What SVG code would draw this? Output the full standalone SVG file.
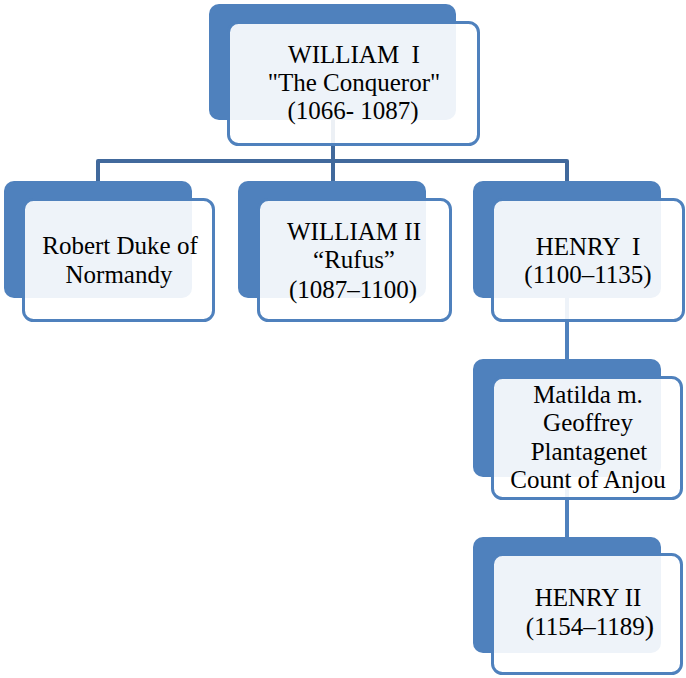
<svg xmlns="http://www.w3.org/2000/svg" width="686" height="678" viewBox="0 0 686 678">
<style>
.back{fill:#4F81BD;}
.front{fill:#FFFFFF;fill-opacity:0.9;stroke:#4F81BD;stroke-width:3;}
.t{font-family:"Liberation Serif","Times New Roman",serif;font-size:25px;fill:#000;text-anchor:middle;white-space:pre;}
.c1{fill:none;stroke:#41699C;stroke-width:4;stroke-linejoin:round;}
.c2{fill:none;stroke:#4F81BD;stroke-width:4;}
</style>
<rect width="686" height="678" fill="#FFFFFF"/>
<g id="connectors">
<path class="c1" d="M333,118 V161 M98,181 V161 H567 V181 M333,161 V181"/>
<path class="c2" d="M567,296 V360 M567,475 V538"/>
</g>
<g id="william1">
<rect class="back" x="209" y="4" width="247" height="116" rx="10"/>
<rect class="front" x="228.5" y="22.5" width="250" height="122" rx="10"/>
<text class="t" x="354" y="63" xml:space="preserve">WILLIAM  I</text>
<text class="t" x="354" y="91">"The Conqueror"</text>
<text class="t" x="353" y="119">(1066- 1087)</text>
</g>
<g id="robert">
<rect class="back" x="4" y="181" width="188" height="117" rx="10"/>
<rect class="front" x="23.5" y="199.5" width="190" height="121" rx="10"/>
<text class="t" x="120" y="254">Robert Duke of</text>
<text class="t" x="119" y="283">Normandy</text>
</g>
<g id="william2">
<rect class="back" x="238" y="181" width="188" height="117" rx="10"/>
<rect class="front" x="258.5" y="199.5" width="192" height="121" rx="10"/>
<text class="t" x="354" y="240">WILLIAM II</text>
<text class="t" x="354" y="268">“Rufus”</text>
<text class="t" x="353" y="298">(1087–1100)</text>
</g>
<g id="henry1">
<rect class="back" x="473" y="181" width="188" height="117" rx="10"/>
<rect class="front" x="492.5" y="199.5" width="191" height="121" rx="10"/>
<text class="t" x="588" y="255" xml:space="preserve">HENRY  I</text>
<text class="t" x="588" y="283">(1100–1135)</text>
</g>
<g id="matilda">
<rect class="back" x="473" y="359" width="188" height="118" rx="10"/>
<rect class="front" x="492.5" y="377.5" width="189" height="121" rx="10"/>
<text class="t" x="588" y="403">Matilda m.</text>
<text class="t" x="588" y="431">Geoffrey</text>
<text class="t" x="589" y="460">Plantagenet</text>
<text class="t" x="588" y="488">Count of Anjou</text>
</g>
<g id="henry2">
<rect class="back" x="473" y="537" width="188" height="116" rx="10"/>
<rect class="front" x="492.5" y="554.5" width="189" height="119" rx="10"/>
<text class="t" x="588" y="606">HENRY II</text>
<text class="t" x="590" y="635">(1154–1189<tspan font-size="28">)</tspan></text>
</g>
</svg>
